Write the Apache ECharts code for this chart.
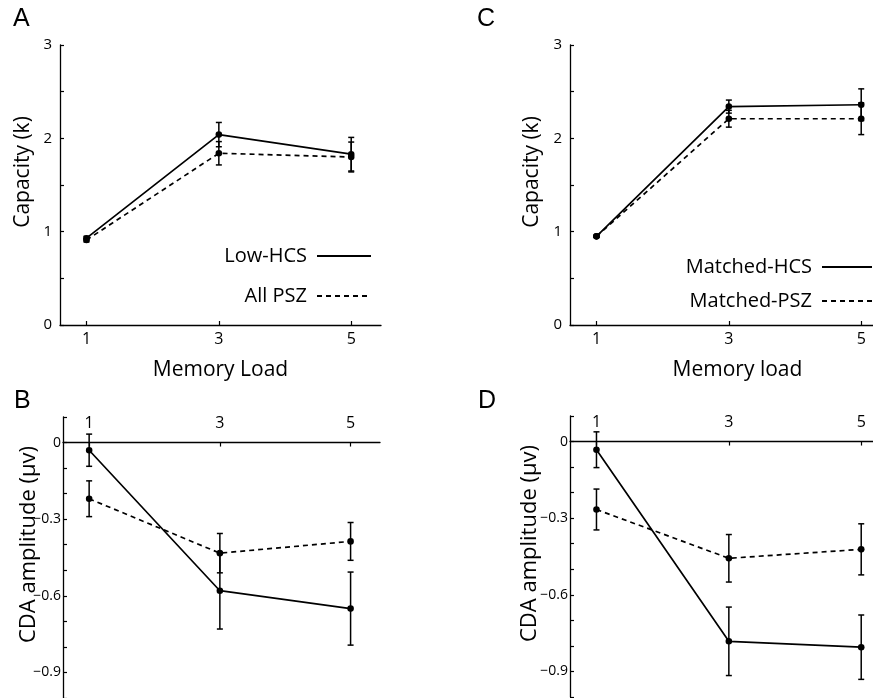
<!DOCTYPE html>
<html>
<head>
<meta charset="utf-8">
<script src="https://cdn.jsdelivr.net/npm/echarts@6/dist/echarts.min.js"></script>
<style>
html,body{margin:0;padding:0;background:#fff;}
#chart{width:873px;height:698px;}
</style>
</head>
<body>
<div id="chart"></div>
<script>
// ---------- data ----------
const loads = [1, 3, 5];
const xTickValues = [1, 3, 5];
const capacityLabels = [0, 1, 2, 3];
const cdaLabels = [0, -0.3, -0.6, -0.9];

// Panel A (capacity)
const lowHcsK = [0.93, 2.04, 1.83];
const lowHcsKErr = [0.02, 0.13, 0.18];
const allPszK = [0.91, 1.84, 1.80];
const allPszKErr = [0.02, 0.125, 0.16];

// Panel C (capacity)
const matchedHcsK = [0.95, 2.34, 2.36];
const matchedHcsKErr = [0.01, 0.07, 0.17];
const matchedPszK = [0.95, 2.21, 2.21];
const matchedPszKErr = [0.01, 0.09, 0.17];

// Panel B (CDA amplitude)
const lowHcsCda = [-0.03, -0.58, -0.65];
const lowHcsCdaErr = [0.063, 0.15, 0.143];
const allPszCda = [-0.22, -0.433, -0.387];
const allPszCdaErr = [0.07, 0.077, 0.074];

// Panel D (CDA amplitude)
const matchedHcsCda = [-0.032, -0.782, -0.805];
const matchedHcsCdaErr = [0.07, 0.134, 0.126];
const matchedPszCda = [-0.266, -0.457, -0.422];
const matchedPszCdaErr = [0.08, 0.093, 0.10];

// ---------- styling helpers ----------
const FONT = 'Open Sans';
const BLACK = '#000';
const DASH = [5, 4];

function capLabel(v) {
  return capacityLabels.some(t => Math.abs(t - v) < 1e-6) ? String(Math.round(v)) : '';
}
function cdaLabel(v) {
  if (!cdaLabels.some(t => Math.abs(t - v) < 1e-6)) return '';
  if (Math.abs(v) < 1e-6) return '0';
  return '\u2212' + Math.abs(v).toFixed(1);
}

function xAxisCap(gridIndex, name, namePad) {
  return {
    type: 'value', gridIndex, min: 0.6, max: 5.45,
    name, nameLocation: 'middle', nameGap: 35, nameMoveOverlap: false,
    nameTextStyle: { fontFamily: FONT, fontSize: 21, color: BLACK, padding: namePad },
    axisLine: { show: true, lineStyle: { color: BLACK, width: 1.3 } },
    axisTick: { show: true, inside: true, length: 4, customValues: xTickValues, lineStyle: { color: BLACK, width: 1.2 } },
    axisLabel: { customValues: xTickValues, fontFamily: FONT, fontSize: 16, color: BLACK, margin: 6 },
    splitLine: { show: false }
  };
}
function yAxisCap(gridIndex, nameGap) {
  return {
    type: 'value', gridIndex, min: 0, max: 3, interval: 0.5,
    name: 'Capacity (k)', nameLocation: 'middle', nameGap, nameMoveOverlap: false,
    nameTextStyle: { fontFamily: FONT, fontSize: 21, color: BLACK, padding: [0, 0, 0, 26] },
    axisLine: { show: true, lineStyle: { color: BLACK, width: 1.3 } },
    axisTick: { show: true, inside: true, length: 4, lineStyle: { color: BLACK, width: 1.2 } },
    axisLabel: { formatter: capLabel, fontFamily: FONT, fontSize: 15, color: BLACK, margin: 8 },
    splitLine: { show: false }
  };
}
function xAxisCda(gridIndex) {
  return {
    type: 'value', gridIndex, min: 0.6, max: 5.45, position: 'top',
    axisLine: { show: true, onZero: true, lineStyle: { color: BLACK, width: 1.3 } },
    axisTick: { show: true, inside: true, length: 4, customValues: xTickValues, lineStyle: { color: BLACK, width: 1.2 } },
    axisLabel: { customValues: xTickValues, fontFamily: FONT, fontSize: 16, color: BLACK, margin: -14 },
    splitLine: { show: false }
  };
}
function yAxisCda(gridIndex, nameGap) {
  return {
    type: 'value', gridIndex, min: -1, max: 0.1, interval: 0.1,
    name: 'CDA amplitude (\u03BCv)', nameLocation: 'middle', nameGap, nameMoveOverlap: false,
    nameTextStyle: { fontFamily: FONT, fontSize: 22, color: BLACK, padding: [0, 0, 0, 26] },
    axisLine: { show: true, onZero: false, lineStyle: { color: BLACK, width: 1.3 } },
    axisTick: { show: true, inside: true, length: 4, lineStyle: { color: BLACK, width: 1.2 } },
    axisLabel: { formatter: cdaLabel, fontFamily: FONT, fontSize: 14, color: BLACK, margin: 2 },
    splitLine: { show: false }
  };
}

function lineSeries(name, idx, values, dashed) {
  return {
    type: 'line', name, xAxisIndex: idx, yAxisIndex: idx,
    data: loads.map((x, i) => [x, values[i]]),
    symbol: 'none', z: 3,
    lineStyle: { color: BLACK, width: 1.7, type: dashed ? DASH : 'solid' },
    itemStyle: { color: BLACK },
    emphasis: { disabled: true }, animation: false
  };
}
function errSeries(name, idx, values, errs) {
  return {
    type: 'custom', name, xAxisIndex: idx, yAxisIndex: idx, z: 4,
    data: loads.map((x, i) => [x, values[i], errs[i]]),
    encode: { x: 0, y: 1 },
    animation: false,
    renderItem: function (params, api) {
      const x = api.value(0), m = api.value(1), e = api.value(2);
      const top = api.coord([x, m + e]);
      const bot = api.coord([x, m - e]);
      const c = api.coord([x, m]);
      const w = 3;
      const st = { stroke: BLACK, lineWidth: 1.5 };
      return {
        type: 'group',
        children: [
          { type: 'line', shape: { x1: top[0], y1: top[1], x2: bot[0], y2: bot[1] }, style: st },
          { type: 'line', shape: { x1: top[0] - w, y1: top[1], x2: top[0] + w, y2: top[1] }, style: st },
          { type: 'line', shape: { x1: bot[0] - w, y1: bot[1], x2: bot[0] + w, y2: bot[1] }, style: st },
          { type: 'circle', shape: { cx: c[0], cy: c[1], r: 3.3 }, style: { fill: BLACK } }
        ]
      };
    }
  };
}

const chart = echarts.init(document.getElementById('chart'), null, { renderer: 'canvas' });

const letterStyle = { fontFamily: 'Liberation Sans', fontSize: 25, fill: BLACK };
const legendText = { fontFamily: FONT, fontSize: 20, color: BLACK, padding: [0, 5, 0, 0] };

chart.setOption({
  backgroundColor: '#fff',
  animation: false,
  grid: [
    { left: 60, top: 45, width: 321, height: 280, outerBoundsMode: 'none', containLabel: false },
    { left: 570, top: 45, width: 321, height: 280, outerBoundsMode: 'none', containLabel: false },
    { left: 63, top: 417, width: 317, height: 281, outerBoundsMode: 'none', containLabel: false },
    { left: 570, top: 416, width: 321, height: 281, outerBoundsMode: 'none', containLabel: false }
  ],
  xAxis: [
    xAxisCap(0, 'Memory Load', [0, 0, 0, 0]),
    xAxisCap(1, 'Memory load', [0, 0, 0, 14]),
    xAxisCda(2),
    xAxisCda(3)
  ],
  yAxis: [
    yAxisCap(0, 26),
    yAxisCap(1, 27),
    yAxisCda(2, 23),
    yAxisCda(3, 29)
  ],
  legend: [
    {
      data: ['Low-HCS', 'All PSZ'], orient: 'vertical', align: 'right',
      right: 501, top: 246, padding: 0, itemWidth: 54, itemHeight: 20, itemGap: 20,
      selectedMode: false,
      itemStyle: { opacity: 0 },
      textStyle: legendText
    },
    {
      data: ['Matched-HCS', 'Matched-PSZ'], orient: 'vertical', align: 'right',
      right: 0, top: 257, padding: 0, itemWidth: 50, itemHeight: 20, itemGap: 14,
      selectedMode: false,
      itemStyle: { opacity: 0 },
      textStyle: legendText
    }
  ],
  graphic: [
    { type: 'text', left: 13, top: 7, style: Object.assign({ text: 'A' }, letterStyle) },
    { type: 'text', left: 477, top: 7, style: Object.assign({ text: 'C' }, letterStyle) },
    { type: 'text', left: 14, top: 389, style: Object.assign({ text: 'B' }, letterStyle) },
    { type: 'text', left: 478, top: 389, style: Object.assign({ text: 'D' }, letterStyle) }
  ],
  series: [
    lineSeries('Low-HCS', 0, lowHcsK, false),
    lineSeries('All PSZ', 0, allPszK, true),
    errSeries('Low-HCS err', 0, lowHcsK, lowHcsKErr),
    errSeries('All PSZ err', 0, allPszK, allPszKErr),

    lineSeries('Matched-HCS', 1, matchedHcsK, false),
    lineSeries('Matched-PSZ', 1, matchedPszK, true),
    errSeries('Matched-HCS err', 1, matchedHcsK, matchedHcsKErr),
    errSeries('Matched-PSZ err', 1, matchedPszK, matchedPszKErr),

    lineSeries('Low-HCS CDA', 2, lowHcsCda, false),
    lineSeries('All PSZ CDA', 2, allPszCda, true),
    errSeries('Low-HCS CDA err', 2, lowHcsCda, lowHcsCdaErr),
    errSeries('All PSZ CDA err', 2, allPszCda, allPszCdaErr),

    lineSeries('Matched-HCS CDA', 3, matchedHcsCda, false),
    lineSeries('Matched-PSZ CDA', 3, matchedPszCda, true),
    errSeries('Matched-HCS CDA err', 3, matchedHcsCda, matchedHcsCdaErr),
    errSeries('Matched-PSZ CDA err', 3, matchedPszCda, matchedPszCdaErr)
  ]
});
</script>
</body>
</html>
